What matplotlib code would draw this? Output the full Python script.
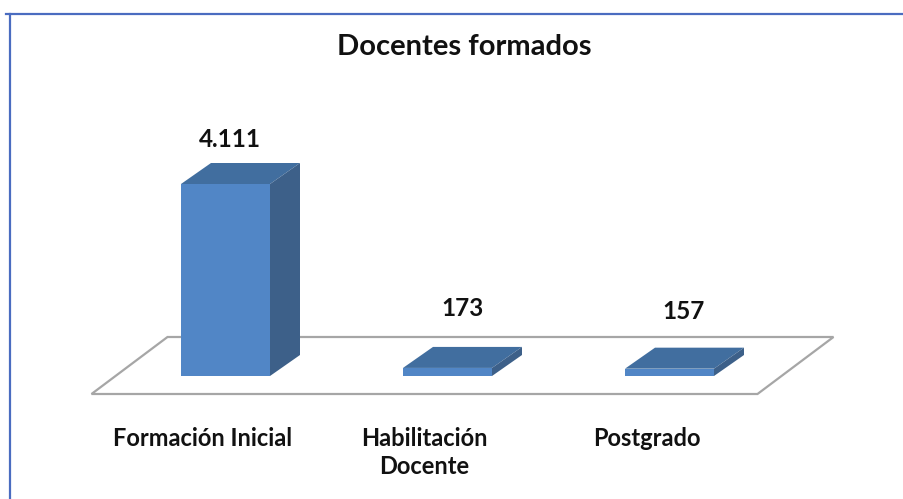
import matplotlib
matplotlib.use("Agg")
import matplotlib.pyplot as plt
from matplotlib.patches import Polygon
from matplotlib.lines import Line2D

categories = ["Formación Inicial", "Habilitación\nDocente", "Postgrado"]
values = [4111, 173, 157]
value_labels = ["4.111", "173", "157"]
title = "Docentes formados"

W, H, DPI = 904, 499, 100
fig = plt.figure(figsize=(W / DPI, H / DPI), dpi=DPI)
fig.patch.set_facecolor("white")
ax = fig.add_axes([0, 0, 1, 1])
ax.set_axis_off()

# pixel scale of the layout
px_cat = 222.0          # pixels per category
px_val = 192.0 / 4111   # pixels per value unit
x0_px, y0_px = 225.5, 376.0  # pixel position (from top-left) of bar 0 front-bottom center
ax.set_xlim(-x0_px / px_cat, (W - x0_px) / px_cat)
ax.set_ylim(-(H - y0_px) / px_val, y0_px / px_val)

# depth offsets in data units
bdx, bdy = 30 / px_cat, 21 / px_val        # bar depth
fdx, fdy = 76 / px_cat, 57 / px_val        # floor depth
bw = 89 / px_cat

front_c = "#5186C6"
top_c = "#416E9F"
side_c = "#3D6089"

# floor
fx0, fx1 = -0.5, len(categories) - 0.5
ox, oy = -(fdx - bdx) / 2, -(fdy - bdy) / 2
floor = Polygon([(fx0 + ox, oy), (fx1 + ox, oy), (fx1 + ox + fdx, oy + fdy), (fx0 + ox + fdx, oy + fdy)],
                closed=True, facecolor="white", edgecolor="#A6A6A6", linewidth=1.6, zorder=1)
ax.add_patch(floor)

xs = list(range(len(categories)))
ax.bar(xs, values, width=bw, color=front_c, edgecolor="none", zorder=3)
for x, v in zip(xs, values):
    l, r = x - bw / 2, x + bw / 2
    ax.add_patch(Polygon([(l, v), (r, v), (r + bdx, v + bdy), (l + bdx, v + bdy)],
                         closed=True, facecolor=top_c, edgecolor="none", zorder=3))
    ax.add_patch(Polygon([(r, 0), (r + bdx, bdy), (r + bdx, v + bdy), (r, v)],
                         closed=True, facecolor=side_c, edgecolor="none", zorder=3))

label_off_px = [23, 38, 36]
label_dx_px = [4, 15, 14]
for x, v, t, o, d in zip(xs, values, value_labels, label_off_px, label_dx_px):
    ax.text(x + d / px_cat, v + bdy + o / px_val, t, ha="center", va="center",
            fontsize=17.5, fontweight="bold", family="Lato", color="#111111", zorder=4)

for x, c in zip(xs, categories):
    ax.text(x + ox, oy - 33 / px_val, c, ha="center", va="top", fontsize=17,
            fontweight="bold", family="Lato", color="#111111", linespacing=1.25)

fig.text(464 / W, 1 - 47 / H, title, ha="center", va="center", fontsize=21,
         fontweight="bold", family="Lato", color="#111111")

# border lines (top and left)
fig.add_artist(Line2D([6 / W, 1], [1 - 14 / H, 1 - 14 / H], color="#4A6CC0", linewidth=1.6))
fig.add_artist(Line2D([10 / W, 10 / W], [1 - 14 / H, 0], color="#4A6CC0", linewidth=1.6))

fig.savefig("out.png", dpi=DPI, facecolor="white")
